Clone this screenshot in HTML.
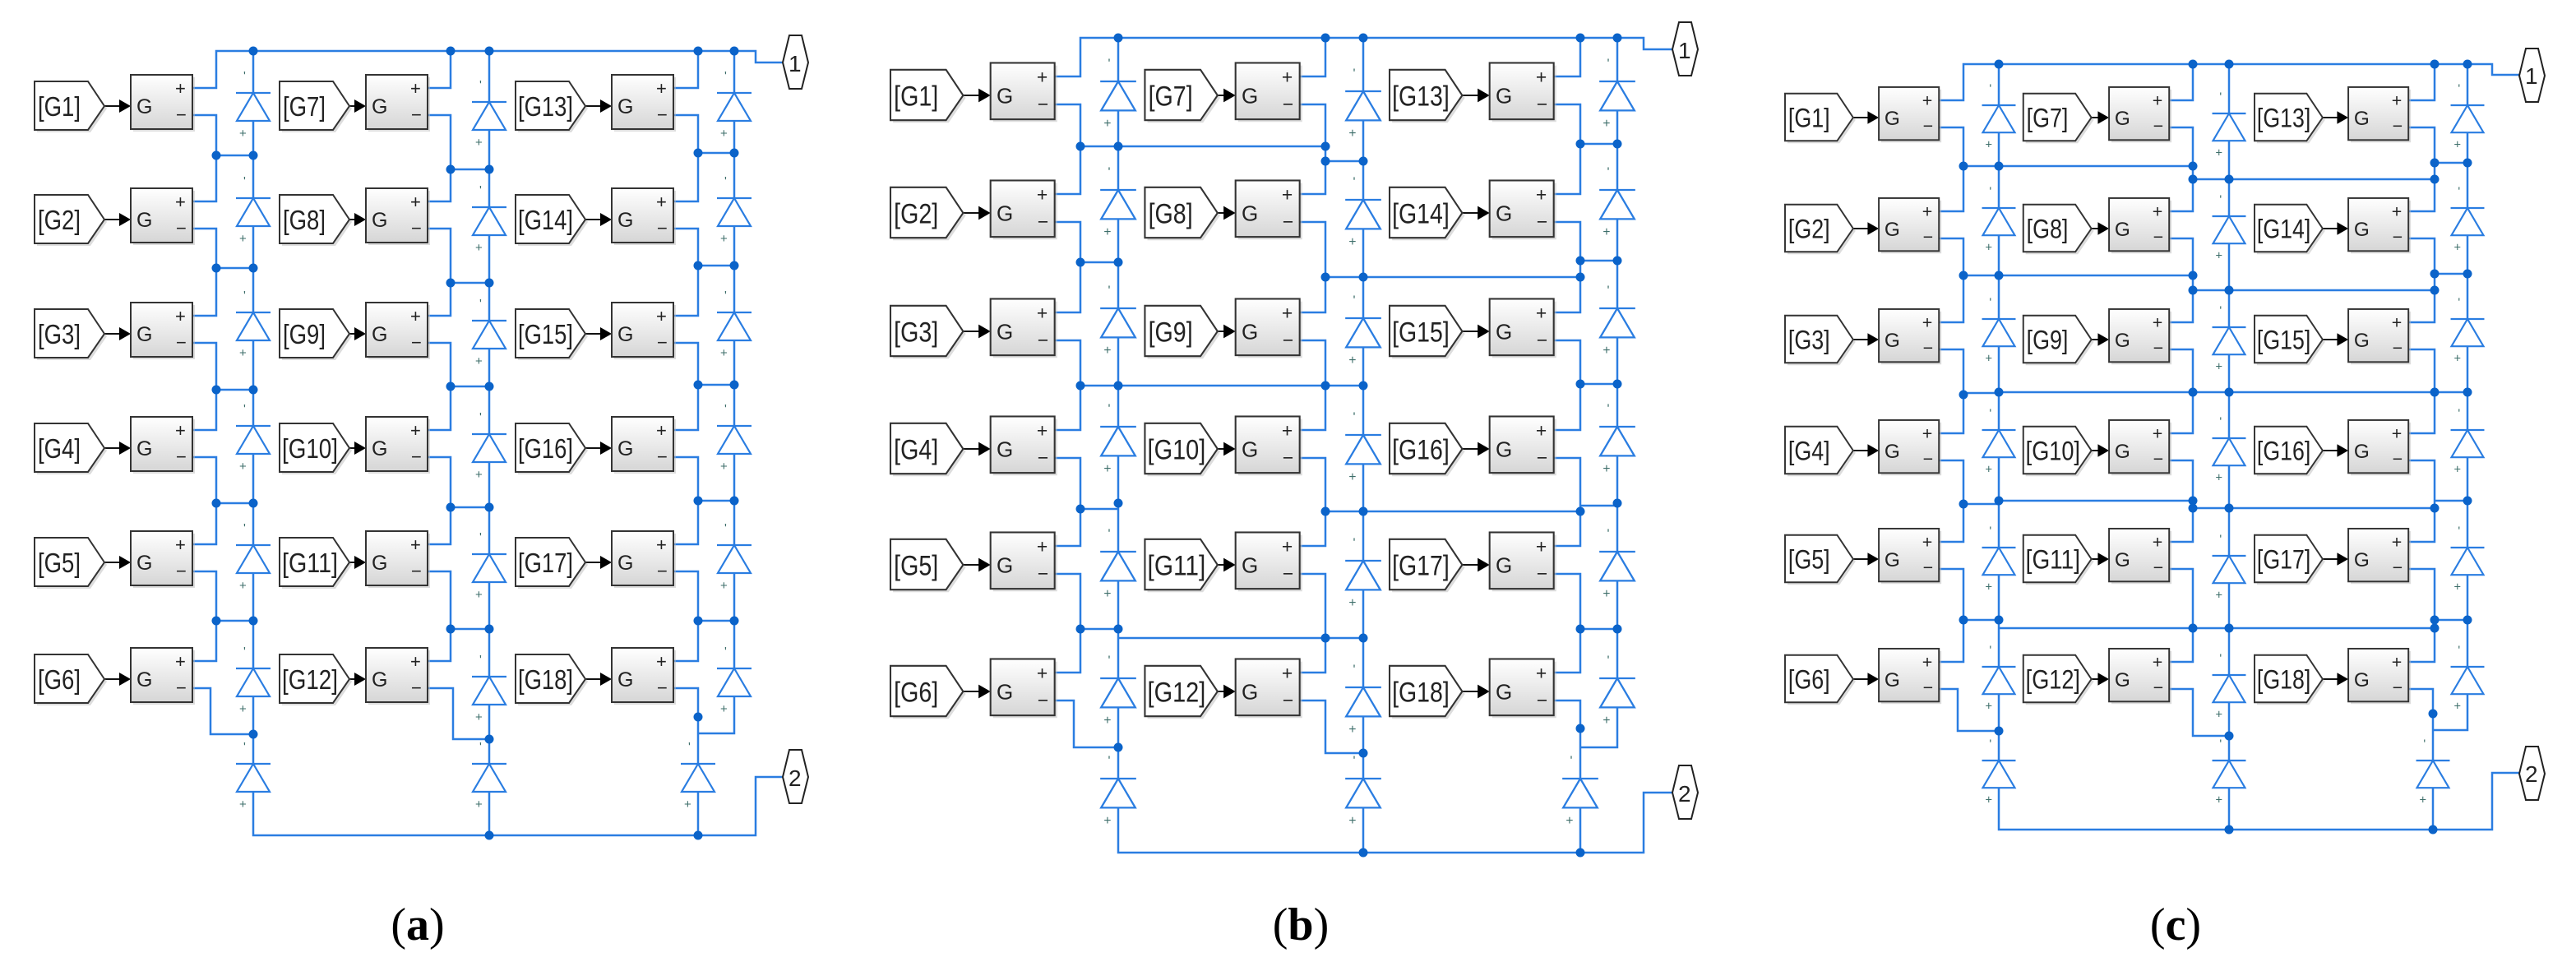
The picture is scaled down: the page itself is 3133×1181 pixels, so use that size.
<!DOCTYPE html>
<html><head><meta charset="utf-8"><style>
html,body{margin:0;padding:0;background:#fff}
svg{display:block}
.t{font-family:"Liberation Sans",sans-serif;font-size:33px;fill:#222}
.g{font-family:"Liberation Sans",sans-serif;font-size:25px;fill:#222}
.s{font-family:"Liberation Sans",sans-serif;font-size:22px;fill:#222}
.p{font-family:"Liberation Sans",sans-serif;font-size:28px;fill:#222}
.d{font-family:"Liberation Sans",sans-serif;font-size:15px;fill:#3d6e6a}
.w{fill:none;stroke:#2a7de1;stroke-width:2.5}
.lab{font-family:"Liberation Serif",serif;font-size:56px;fill:#000}
</style></head><body>
<svg width="3133" height="1181" viewBox="0 0 3133 1181" xmlns="http://www.w3.org/2000/svg">
<defs>
<linearGradient id="gr" x1="0" y1="0" x2="0" y2="1"><stop offset="0" stop-color="#ffffff"/><stop offset="1" stop-color="#d6d6d6"/></linearGradient>
<g id="bx">
<line x1="80" y1="0" x2="104" y2="0" stroke="#111" stroke-width="2"/>
<polygon points="103,-8 117,0 103,8" fill="#000"/>
<rect x="120" y="-35" width="75" height="66" fill="#bbb" opacity="0.5"/>
<rect x="117" y="-38" width="75" height="66" fill="url(#gr)" stroke="#333" stroke-width="2"/>
<text x="171" y="-14" class="s">+</text>
<text x="172" y="18" class="s">−</text>
</g>
<g id="tg">
<polygon points="3,-27 68,-27 88,3 68,32 3,32" fill="#bbb" opacity="0.5"/>
<polygon points="0,-30 65,-30 85,0 65,29 0,29" fill="#fff" stroke="#333" stroke-width="2"/>
</g>
<g id="dd">
<polygon points="0,0 -20,34 20,34" fill="#fff" stroke="#2a7de1" stroke-width="2.2"/>
<line x1="-21" y1="0" x2="21" y2="0" stroke="#2a7de1" stroke-width="2.2"/>
<text x="-12" y="-16" class="d">'</text>
<text x="-17" y="54" class="d">+</text>
</g>
<circle id="dt" r="5.5" fill="#0b63c9"/>
<g id="pt"><polygon points="0,33 8,0 23,0 31,33 23,65 8,65" fill="#fff" stroke="#222" stroke-width="2"/></g>
</defs>

<!-- ===== PANEL A ===== -->
<path class="w" d="M234,107H263V62H919V76H952 M234,140H263V245H234 M234,278H263V384H234 M234,417H263V523H234 M234,556H263V662H234 M234,695H263V804H234 M234,837H256V893H308
M263,189H308 M263,326H308 M263,474H308 M263,612H308 M263,755H308 M308,62V1016H919V945H952
M520,107H548V62 M520,140H548V245H520 M520,278H548V384H520 M520,417H548V523H520 M520,556H548V662H520 M520,695H548V804H520 M520,837H551V899H595
M548,206H595 M548,344H595 M548,470H595 M548,617H595 M548,765H595 M595,62V1016
M819,107H849V62 M819,140H849V245H819 M819,278H849V384H819 M819,417H849V523H819 M819,556H849V662H819 M819,695H849V804H819 M819,837H849V1016
M849,186H893 M849,323H893 M849,468H893 M849,609H893 M849,755H893 M893,62V892H849"/>
<g>
<use href="#dd" x="308" y="113"/><use href="#dd" x="308" y="241"/><use href="#dd" x="308" y="380"/><use href="#dd" x="308" y="518"/><use href="#dd" x="308" y="663"/><use href="#dd" x="308" y="813"/><use href="#dd" x="308" y="929"/>
<use href="#dd" x="595" y="124"/><use href="#dd" x="595" y="252"/><use href="#dd" x="595" y="390"/><use href="#dd" x="595" y="528"/><use href="#dd" x="595" y="674"/><use href="#dd" x="595" y="823"/><use href="#dd" x="595" y="929"/>
<use href="#dd" x="893" y="113"/><use href="#dd" x="893" y="241"/><use href="#dd" x="893" y="380"/><use href="#dd" x="893" y="518"/><use href="#dd" x="893" y="663"/><use href="#dd" x="893" y="813"/><use href="#dd" x="849" y="929"/>
</g>
<g>
<use href="#dt" x="308" y="62"/><use href="#dt" x="548" y="62"/><use href="#dt" x="595" y="62"/><use href="#dt" x="849" y="62"/><use href="#dt" x="893" y="62"/>
<use href="#dt" x="263" y="189"/><use href="#dt" x="308" y="189"/><use href="#dt" x="263" y="326"/><use href="#dt" x="308" y="326"/><use href="#dt" x="263" y="474"/><use href="#dt" x="308" y="474"/><use href="#dt" x="263" y="612"/><use href="#dt" x="308" y="612"/><use href="#dt" x="263" y="755"/><use href="#dt" x="308" y="755"/>
<use href="#dt" x="548" y="206"/><use href="#dt" x="595" y="206"/><use href="#dt" x="548" y="344"/><use href="#dt" x="595" y="344"/><use href="#dt" x="548" y="470"/><use href="#dt" x="595" y="470"/><use href="#dt" x="548" y="617"/><use href="#dt" x="595" y="617"/><use href="#dt" x="548" y="765"/><use href="#dt" x="595" y="765"/>
<use href="#dt" x="849" y="186"/><use href="#dt" x="893" y="186"/><use href="#dt" x="849" y="323"/><use href="#dt" x="893" y="323"/><use href="#dt" x="849" y="468"/><use href="#dt" x="893" y="468"/><use href="#dt" x="849" y="609"/><use href="#dt" x="893" y="609"/><use href="#dt" x="849" y="755"/><use href="#dt" x="893" y="755"/>
<use href="#dt" x="308" y="893"/><use href="#dt" x="595" y="899"/><use href="#dt" x="849" y="872"/><use href="#dt" x="595" y="1016"/><use href="#dt" x="849" y="1016"/>
</g>
<use href="#pt" x="952" y="43"/><text x="959" y="87" class="p">1</text>
<use href="#pt" x="952" y="912"/><text x="959" y="956" class="p">2</text>

<g transform="translate(42,129)"><use href="#bx"/><use href="#tg"/><text x="4" y="12" class="t" textLength="52" lengthAdjust="spacingAndGlyphs">[G1]</text><text x="124" y="9" class="g">G</text></g>
<g transform="translate(42,267)"><use href="#bx"/><use href="#tg"/><text x="4" y="12" class="t" textLength="52" lengthAdjust="spacingAndGlyphs">[G2]</text><text x="124" y="9" class="g">G</text></g>
<g transform="translate(42,406)"><use href="#bx"/><use href="#tg"/><text x="4" y="12" class="t" textLength="52" lengthAdjust="spacingAndGlyphs">[G3]</text><text x="124" y="9" class="g">G</text></g>
<g transform="translate(42,545)"><use href="#bx"/><use href="#tg"/><text x="4" y="12" class="t" textLength="52" lengthAdjust="spacingAndGlyphs">[G4]</text><text x="124" y="9" class="g">G</text></g>
<g transform="translate(42,684)"><use href="#bx"/><use href="#tg"/><text x="4" y="12" class="t" textLength="52" lengthAdjust="spacingAndGlyphs">[G5]</text><text x="124" y="9" class="g">G</text></g>
<g transform="translate(42,826)"><use href="#bx"/><use href="#tg"/><text x="4" y="12" class="t" textLength="52" lengthAdjust="spacingAndGlyphs">[G6]</text><text x="124" y="9" class="g">G</text></g>
<g transform="translate(328,129)"><use href="#bx"/><use href="#tg" x="12"/><text x="16" y="12" class="t" textLength="52" lengthAdjust="spacingAndGlyphs">[G7]</text><text x="124" y="9" class="g">G</text></g>
<g transform="translate(328,267)"><use href="#bx"/><use href="#tg" x="12"/><text x="16" y="12" class="t" textLength="52" lengthAdjust="spacingAndGlyphs">[G8]</text><text x="124" y="9" class="g">G</text></g>
<g transform="translate(328,406)"><use href="#bx"/><use href="#tg" x="12"/><text x="16" y="12" class="t" textLength="52" lengthAdjust="spacingAndGlyphs">[G9]</text><text x="124" y="9" class="g">G</text></g>
<g transform="translate(328,545)"><use href="#bx"/><use href="#tg" x="12"/><text x="15" y="12" class="t" textLength="68" lengthAdjust="spacingAndGlyphs">[G10]</text><text x="124" y="9" class="g">G</text></g>
<g transform="translate(328,684)"><use href="#bx"/><use href="#tg" x="12"/><text x="15" y="12" class="t" textLength="68" lengthAdjust="spacingAndGlyphs">[G11]</text><text x="124" y="9" class="g">G</text></g>
<g transform="translate(328,826)"><use href="#bx"/><use href="#tg" x="12"/><text x="15" y="12" class="t" textLength="68" lengthAdjust="spacingAndGlyphs">[G12]</text><text x="124" y="9" class="g">G</text></g>
<g transform="translate(627,129)"><use href="#bx"/><use href="#tg"/><text x="3" y="12" class="t" textLength="67" lengthAdjust="spacingAndGlyphs">[G13]</text><text x="124" y="9" class="g">G</text></g>
<g transform="translate(627,267)"><use href="#bx"/><use href="#tg"/><text x="3" y="12" class="t" textLength="67" lengthAdjust="spacingAndGlyphs">[G14]</text><text x="124" y="9" class="g">G</text></g>
<g transform="translate(627,406)"><use href="#bx"/><use href="#tg"/><text x="3" y="12" class="t" textLength="67" lengthAdjust="spacingAndGlyphs">[G15]</text><text x="124" y="9" class="g">G</text></g>
<g transform="translate(627,545)"><use href="#bx"/><use href="#tg"/><text x="3" y="12" class="t" textLength="67" lengthAdjust="spacingAndGlyphs">[G16]</text><text x="124" y="9" class="g">G</text></g>
<g transform="translate(627,684)"><use href="#bx"/><use href="#tg"/><text x="3" y="12" class="t" textLength="67" lengthAdjust="spacingAndGlyphs">[G17]</text><text x="124" y="9" class="g">G</text></g>
<g transform="translate(627,826)"><use href="#bx"/><use href="#tg"/><text x="3" y="12" class="t" textLength="67" lengthAdjust="spacingAndGlyphs">[G18]</text><text x="124" y="9" class="g">G</text></g>

<!-- ===== PANEL B ===== -->
<path class="w" d="M1283,93H1314V46H1999V60H2034 M1283,127H1314V236H1283 M1283,270H1314V380H1283 M1283,414H1314V523H1283 M1283,557H1314V664H1283 M1283,698H1314V818H1283 M1283,852H1306V909H1360
M1314,178H1612 M1314,319H1360 M1314,469H1658 M1314,619H1360 M1314,765H1360 M1360,776H1658 M1360,46V1037H1999V964H2034
M1581,93H1612V46 M1581,127H1612V236H1581 M1581,270H1612V380H1581 M1581,414H1612V523H1581 M1581,557H1612V664H1581 M1581,698H1612V818H1581 M1581,852H1612V916H1658
M1612,196H1658 M1612,337H1922 M1612,622H1922 M1658,46V1037
M1890,93H1922V46 M1890,127H1922V236H1890 M1890,270H1922V380H1890 M1890,414H1922V523H1890 M1890,557H1922V664H1890 M1890,698H1922V818H1890 M1890,852H1922V1037
M1922,175H1967 M1922,317H1967 M1922,467H1967 M1922,615H1967 M1922,765H1967 M1967,46V909H1922"/>
<g>
<g transform="translate(1360,99) scale(1.04)"><use href="#dd"/></g><g transform="translate(1360,231) scale(1.04)"><use href="#dd"/></g><g transform="translate(1360,375) scale(1.04)"><use href="#dd"/></g><g transform="translate(1360,519) scale(1.04)"><use href="#dd"/></g><g transform="translate(1360,671) scale(1.04)"><use href="#dd"/></g><g transform="translate(1360,825) scale(1.04)"><use href="#dd"/></g><g transform="translate(1360,947) scale(1.04)"><use href="#dd"/></g>
<g transform="translate(1658,111) scale(1.04)"><use href="#dd"/></g><g transform="translate(1658,243) scale(1.04)"><use href="#dd"/></g><g transform="translate(1658,387) scale(1.04)"><use href="#dd"/></g><g transform="translate(1658,529) scale(1.04)"><use href="#dd"/></g><g transform="translate(1658,682) scale(1.04)"><use href="#dd"/></g><g transform="translate(1658,836) scale(1.04)"><use href="#dd"/></g><g transform="translate(1658,947) scale(1.04)"><use href="#dd"/></g>
<g transform="translate(1967,99) scale(1.04)"><use href="#dd"/></g><g transform="translate(1967,231) scale(1.04)"><use href="#dd"/></g><g transform="translate(1967,375) scale(1.04)"><use href="#dd"/></g><g transform="translate(1967,519) scale(1.04)"><use href="#dd"/></g><g transform="translate(1967,671) scale(1.04)"><use href="#dd"/></g><g transform="translate(1967,825) scale(1.04)"><use href="#dd"/></g><g transform="translate(1922,947) scale(1.04)"><use href="#dd"/></g>
</g>
<g>
<use href="#dt" x="1360" y="46"/><use href="#dt" x="1612" y="46"/><use href="#dt" x="1658" y="46"/><use href="#dt" x="1922" y="46"/><use href="#dt" x="1967" y="46"/>
<use href="#dt" x="1314" y="178"/><use href="#dt" x="1360" y="178"/><use href="#dt" x="1612" y="178"/><use href="#dt" x="1612" y="196"/><use href="#dt" x="1658" y="196"/><use href="#dt" x="1922" y="175"/><use href="#dt" x="1967" y="175"/>
<use href="#dt" x="1314" y="319"/><use href="#dt" x="1360" y="319"/><use href="#dt" x="1612" y="337"/><use href="#dt" x="1658" y="337"/><use href="#dt" x="1922" y="337"/><use href="#dt" x="1922" y="317"/><use href="#dt" x="1967" y="317"/>
<use href="#dt" x="1314" y="469"/><use href="#dt" x="1360" y="469"/><use href="#dt" x="1612" y="469"/><use href="#dt" x="1658" y="469"/><use href="#dt" x="1922" y="467"/><use href="#dt" x="1967" y="467"/>
<use href="#dt" x="1314" y="619"/><use href="#dt" x="1360" y="612"/><use href="#dt" x="1612" y="622"/><use href="#dt" x="1658" y="622"/><use href="#dt" x="1922" y="622"/><use href="#dt" x="1967" y="612"/>
<use href="#dt" x="1314" y="765"/><use href="#dt" x="1360" y="765"/><use href="#dt" x="1612" y="776"/><use href="#dt" x="1658" y="776"/><use href="#dt" x="1922" y="765"/><use href="#dt" x="1967" y="765"/>
<use href="#dt" x="1360" y="909"/><use href="#dt" x="1658" y="916"/><use href="#dt" x="1922" y="886"/><use href="#dt" x="1658" y="1037"/><use href="#dt" x="1922" y="1037"/>
</g>
<use href="#pt" x="2034" y="27"/><text x="2041" y="71" class="p">1</text>
<use href="#pt" x="2034" y="931"/><text x="2041" y="975" class="p">2</text>

<g transform="translate(1083,116) scale(1.04)"><use href="#bx"/><use href="#tg"/><text x="4" y="12" class="t" textLength="52" lengthAdjust="spacingAndGlyphs">[G1]</text><text x="124" y="9" class="g">G</text></g>
<g transform="translate(1083,259) scale(1.04)"><use href="#bx"/><use href="#tg"/><text x="4" y="12" class="t" textLength="52" lengthAdjust="spacingAndGlyphs">[G2]</text><text x="124" y="9" class="g">G</text></g>
<g transform="translate(1083,403) scale(1.04)"><use href="#bx"/><use href="#tg"/><text x="4" y="12" class="t" textLength="52" lengthAdjust="spacingAndGlyphs">[G3]</text><text x="124" y="9" class="g">G</text></g>
<g transform="translate(1083,546) scale(1.04)"><use href="#bx"/><use href="#tg"/><text x="4" y="12" class="t" textLength="52" lengthAdjust="spacingAndGlyphs">[G4]</text><text x="124" y="9" class="g">G</text></g>
<g transform="translate(1083,687) scale(1.04)"><use href="#bx"/><use href="#tg"/><text x="4" y="12" class="t" textLength="52" lengthAdjust="spacingAndGlyphs">[G5]</text><text x="124" y="9" class="g">G</text></g>
<g transform="translate(1083,841) scale(1.04)"><use href="#bx"/><use href="#tg"/><text x="4" y="12" class="t" textLength="52" lengthAdjust="spacingAndGlyphs">[G6]</text><text x="124" y="9" class="g">G</text></g>
<g transform="translate(1381,116) scale(1.04)"><use href="#bx"/><use href="#tg" x="11"/><text x="15" y="12" class="t" textLength="52" lengthAdjust="spacingAndGlyphs">[G7]</text><text x="124" y="9" class="g">G</text></g>
<g transform="translate(1381,259) scale(1.04)"><use href="#bx"/><use href="#tg" x="11"/><text x="15" y="12" class="t" textLength="52" lengthAdjust="spacingAndGlyphs">[G8]</text><text x="124" y="9" class="g">G</text></g>
<g transform="translate(1381,403) scale(1.04)"><use href="#bx"/><use href="#tg" x="11"/><text x="15" y="12" class="t" textLength="52" lengthAdjust="spacingAndGlyphs">[G9]</text><text x="124" y="9" class="g">G</text></g>
<g transform="translate(1381,546) scale(1.04)"><use href="#bx"/><use href="#tg" x="11"/><text x="14" y="12" class="t" textLength="68" lengthAdjust="spacingAndGlyphs">[G10]</text><text x="124" y="9" class="g">G</text></g>
<g transform="translate(1381,687) scale(1.04)"><use href="#bx"/><use href="#tg" x="11"/><text x="14" y="12" class="t" textLength="68" lengthAdjust="spacingAndGlyphs">[G11]</text><text x="124" y="9" class="g">G</text></g>
<g transform="translate(1381,841) scale(1.04)"><use href="#bx"/><use href="#tg" x="11"/><text x="14" y="12" class="t" textLength="68" lengthAdjust="spacingAndGlyphs">[G12]</text><text x="124" y="9" class="g">G</text></g>
<g transform="translate(1690,116) scale(1.04)"><use href="#bx"/><use href="#tg"/><text x="3" y="12" class="t" textLength="67" lengthAdjust="spacingAndGlyphs">[G13]</text><text x="124" y="9" class="g">G</text></g>
<g transform="translate(1690,259) scale(1.04)"><use href="#bx"/><use href="#tg"/><text x="3" y="12" class="t" textLength="67" lengthAdjust="spacingAndGlyphs">[G14]</text><text x="124" y="9" class="g">G</text></g>
<g transform="translate(1690,403) scale(1.04)"><use href="#bx"/><use href="#tg"/><text x="3" y="12" class="t" textLength="67" lengthAdjust="spacingAndGlyphs">[G15]</text><text x="124" y="9" class="g">G</text></g>
<g transform="translate(1690,546) scale(1.04)"><use href="#bx"/><use href="#tg"/><text x="3" y="12" class="t" textLength="67" lengthAdjust="spacingAndGlyphs">[G16]</text><text x="124" y="9" class="g">G</text></g>
<g transform="translate(1690,687) scale(1.04)"><use href="#bx"/><use href="#tg"/><text x="3" y="12" class="t" textLength="67" lengthAdjust="spacingAndGlyphs">[G17]</text><text x="124" y="9" class="g">G</text></g>
<g transform="translate(1690,841) scale(1.04)"><use href="#bx"/><use href="#tg"/><text x="3" y="12" class="t" textLength="67" lengthAdjust="spacingAndGlyphs">[G18]</text><text x="124" y="9" class="g">G</text></g>

<!-- ===== PANEL C ===== -->
<path class="w" d="M2358,122H2388V78H3031V91H3064 M2358,155H2388V257H2358 M2358,290H2388V392H2358 M2358,425H2388V527H2358 M2358,560H2388V659H2358 M2358,692H2388V805H2358 M2358,838H2381V889H2431
M2388,202H2667 M2388,335H2667 M2388,478H2431 M2431,477H3001 M2388,613H2431 M2431,609H2667 M2388,754H2431 M2431,764H2961 M2431,78V1009H3031V940H3064
M2638,122H2667V78 M2638,155H2667V257H2638 M2638,290H2667V392H2638 M2638,425H2667V527H2638 M2638,560H2667V659H2638 M2638,692H2667V805H2638 M2638,838H2667V895H2711
M2667,218H2961 M2667,353H2961 M2667,618H2961 M2711,78V1009
M2929,122H2961V78 M2929,155H2961V257H2929 M2929,290H2961V392H2929 M2929,425H2961V527H2929 M2929,560H2961V659H2929 M2929,692H2961V805H2929 M2929,838H2959V1009
M2961,198H3001 M2961,333H3001 M2961,609H3001 M2961,754H3001 M3001,78V888H2959"/>
<g>
<g transform="translate(2431,128) scale(0.975)"><use href="#dd"/></g><g transform="translate(2431,253) scale(0.975)"><use href="#dd"/></g><g transform="translate(2431,388) scale(0.975)"><use href="#dd"/></g><g transform="translate(2431,523) scale(0.975)"><use href="#dd"/></g><g transform="translate(2431,666) scale(0.975)"><use href="#dd"/></g><g transform="translate(2431,811) scale(0.975)"><use href="#dd"/></g><g transform="translate(2431,925) scale(0.975)"><use href="#dd"/></g>
<g transform="translate(2711,138) scale(0.975)"><use href="#dd"/></g><g transform="translate(2711,263) scale(0.975)"><use href="#dd"/></g><g transform="translate(2711,398) scale(0.975)"><use href="#dd"/></g><g transform="translate(2711,533) scale(0.975)"><use href="#dd"/></g><g transform="translate(2711,676) scale(0.975)"><use href="#dd"/></g><g transform="translate(2711,821) scale(0.975)"><use href="#dd"/></g><g transform="translate(2711,925) scale(0.975)"><use href="#dd"/></g>
<g transform="translate(3001,128) scale(0.975)"><use href="#dd"/></g><g transform="translate(3001,253) scale(0.975)"><use href="#dd"/></g><g transform="translate(3001,388) scale(0.975)"><use href="#dd"/></g><g transform="translate(3001,523) scale(0.975)"><use href="#dd"/></g><g transform="translate(3001,666) scale(0.975)"><use href="#dd"/></g><g transform="translate(3001,811) scale(0.975)"><use href="#dd"/></g><g transform="translate(2959,925) scale(0.975)"><use href="#dd"/></g>
</g>
<g>
<use href="#dt" x="2431" y="78"/><use href="#dt" x="2667" y="78"/><use href="#dt" x="2711" y="78"/><use href="#dt" x="2961" y="78"/><use href="#dt" x="3001" y="78"/>
<use href="#dt" x="2388" y="202"/><use href="#dt" x="2431" y="202"/><use href="#dt" x="2667" y="202"/><use href="#dt" x="2667" y="218"/><use href="#dt" x="2711" y="218"/><use href="#dt" x="2961" y="218"/><use href="#dt" x="2961" y="198"/><use href="#dt" x="3001" y="198"/>
<use href="#dt" x="2388" y="335"/><use href="#dt" x="2431" y="335"/><use href="#dt" x="2667" y="335"/><use href="#dt" x="2667" y="353"/><use href="#dt" x="2711" y="353"/><use href="#dt" x="2961" y="353"/><use href="#dt" x="2961" y="333"/><use href="#dt" x="3001" y="333"/>
<use href="#dt" x="2388" y="480"/><use href="#dt" x="2431" y="477"/><use href="#dt" x="2667" y="477"/><use href="#dt" x="2711" y="477"/><use href="#dt" x="2961" y="477"/><use href="#dt" x="3001" y="477"/>
<use href="#dt" x="2388" y="613"/><use href="#dt" x="2431" y="609"/><use href="#dt" x="2667" y="609"/><use href="#dt" x="2667" y="618"/><use href="#dt" x="2711" y="618"/><use href="#dt" x="2961" y="618"/><use href="#dt" x="3001" y="609"/>
<use href="#dt" x="2388" y="754"/><use href="#dt" x="2431" y="754"/><use href="#dt" x="2667" y="764"/><use href="#dt" x="2711" y="764"/><use href="#dt" x="2961" y="764"/><use href="#dt" x="2961" y="754"/><use href="#dt" x="3001" y="754"/>
<use href="#dt" x="2431" y="889"/><use href="#dt" x="2711" y="895"/><use href="#dt" x="2959" y="868"/><use href="#dt" x="2711" y="1009"/><use href="#dt" x="2959" y="1009"/>
</g>
<use href="#pt" x="3064" y="59"/><text x="3071" y="102" class="p">1</text>
<use href="#pt" x="3064" y="908"/><text x="3071" y="951" class="p">2</text>

<g transform="translate(2171,143) scale(0.975)"><use href="#bx"/><use href="#tg"/><text x="4" y="12" class="t" textLength="52" lengthAdjust="spacingAndGlyphs">[G1]</text><text x="124" y="9" class="g">G</text></g>
<g transform="translate(2171,278) scale(0.975)"><use href="#bx"/><use href="#tg"/><text x="4" y="12" class="t" textLength="52" lengthAdjust="spacingAndGlyphs">[G2]</text><text x="124" y="9" class="g">G</text></g>
<g transform="translate(2171,413) scale(0.975)"><use href="#bx"/><use href="#tg"/><text x="4" y="12" class="t" textLength="52" lengthAdjust="spacingAndGlyphs">[G3]</text><text x="124" y="9" class="g">G</text></g>
<g transform="translate(2171,548) scale(0.975)"><use href="#bx"/><use href="#tg"/><text x="4" y="12" class="t" textLength="52" lengthAdjust="spacingAndGlyphs">[G4]</text><text x="124" y="9" class="g">G</text></g>
<g transform="translate(2171,680) scale(0.975)"><use href="#bx"/><use href="#tg"/><text x="4" y="12" class="t" textLength="52" lengthAdjust="spacingAndGlyphs">[G5]</text><text x="124" y="9" class="g">G</text></g>
<g transform="translate(2171,826) scale(0.975)"><use href="#bx"/><use href="#tg"/><text x="4" y="12" class="t" textLength="52" lengthAdjust="spacingAndGlyphs">[G6]</text><text x="124" y="9" class="g">G</text></g>
<g transform="translate(2451,143) scale(0.975)"><use href="#bx"/><use href="#tg" x="10"/><text x="14" y="12" class="t" textLength="52" lengthAdjust="spacingAndGlyphs">[G7]</text><text x="124" y="9" class="g">G</text></g>
<g transform="translate(2451,278) scale(0.975)"><use href="#bx"/><use href="#tg" x="10"/><text x="14" y="12" class="t" textLength="52" lengthAdjust="spacingAndGlyphs">[G8]</text><text x="124" y="9" class="g">G</text></g>
<g transform="translate(2451,413) scale(0.975)"><use href="#bx"/><use href="#tg" x="10"/><text x="14" y="12" class="t" textLength="52" lengthAdjust="spacingAndGlyphs">[G9]</text><text x="124" y="9" class="g">G</text></g>
<g transform="translate(2451,548) scale(0.975)"><use href="#bx"/><use href="#tg" x="10"/><text x="13" y="12" class="t" textLength="68" lengthAdjust="spacingAndGlyphs">[G10]</text><text x="124" y="9" class="g">G</text></g>
<g transform="translate(2451,680) scale(0.975)"><use href="#bx"/><use href="#tg" x="10"/><text x="13" y="12" class="t" textLength="68" lengthAdjust="spacingAndGlyphs">[G11]</text><text x="124" y="9" class="g">G</text></g>
<g transform="translate(2451,826) scale(0.975)"><use href="#bx"/><use href="#tg" x="10"/><text x="13" y="12" class="t" textLength="68" lengthAdjust="spacingAndGlyphs">[G12]</text><text x="124" y="9" class="g">G</text></g>
<g transform="translate(2742,143) scale(0.975)"><use href="#bx"/><use href="#tg"/><text x="3" y="12" class="t" textLength="67" lengthAdjust="spacingAndGlyphs">[G13]</text><text x="124" y="9" class="g">G</text></g>
<g transform="translate(2742,278) scale(0.975)"><use href="#bx"/><use href="#tg"/><text x="3" y="12" class="t" textLength="67" lengthAdjust="spacingAndGlyphs">[G14]</text><text x="124" y="9" class="g">G</text></g>
<g transform="translate(2742,413) scale(0.975)"><use href="#bx"/><use href="#tg"/><text x="3" y="12" class="t" textLength="67" lengthAdjust="spacingAndGlyphs">[G15]</text><text x="124" y="9" class="g">G</text></g>
<g transform="translate(2742,548) scale(0.975)"><use href="#bx"/><use href="#tg"/><text x="3" y="12" class="t" textLength="67" lengthAdjust="spacingAndGlyphs">[G16]</text><text x="124" y="9" class="g">G</text></g>
<g transform="translate(2742,680) scale(0.975)"><use href="#bx"/><use href="#tg"/><text x="3" y="12" class="t" textLength="67" lengthAdjust="spacingAndGlyphs">[G17]</text><text x="124" y="9" class="g">G</text></g>
<g transform="translate(2742,826) scale(0.975)"><use href="#bx"/><use href="#tg"/><text x="3" y="12" class="t" textLength="67" lengthAdjust="spacingAndGlyphs">[G18]</text><text x="124" y="9" class="g">G</text></g>

<!-- labels -->
<text x="508" y="1143" class="lab" text-anchor="middle">(<tspan font-weight="bold">a</tspan>)</text>
<text x="1582" y="1143" class="lab" text-anchor="middle">(<tspan font-weight="bold">b</tspan>)</text>
<text x="2646" y="1143" class="lab" text-anchor="middle">(<tspan font-weight="bold">c</tspan>)</text>
</svg>
</body></html>
